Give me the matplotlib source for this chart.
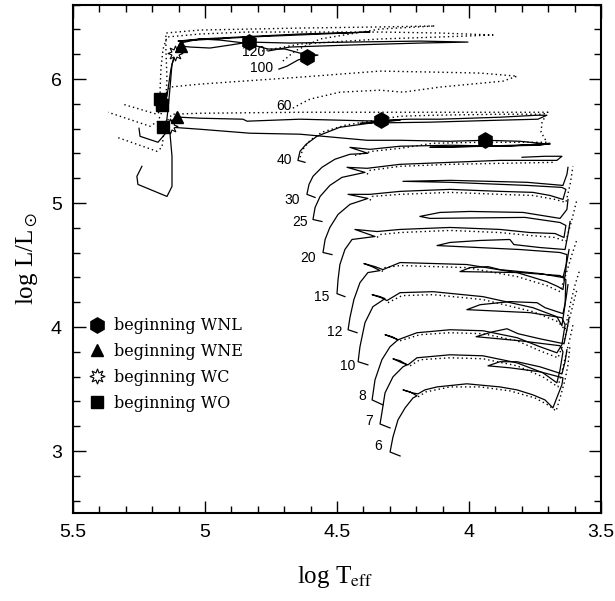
import numpy as np
import matplotlib
matplotlib.use('Agg')
import matplotlib.pyplot as plt
from matplotlib.lines import Line2D
from matplotlib.ticker import MultipleLocator

plt.rcParams['mathtext.fontset'] = 'stix'

# evolutionary tracks, (log Teff, log L)
# solid = rotating models, dotted = non rotating
m6 = [(4.261,2.960),(4.299,2.992),(4.288,3.113),(4.269,3.251),(4.242,3.348),(4.212,3.428),(4.197,3.445),
      (4.223,3.477),(4.250,3.493),(4.216,3.469),(4.193,3.461),(4.167,3.493),(4.121,3.517),(4.008,3.542),
      (3.883,3.517),(3.818,3.493),(3.758,3.453),(3.712,3.412),(3.682,3.348),(3.663,3.453),(3.648,3.534),
      (3.644,3.590),(3.731,3.639),(3.845,3.671),(3.928,3.687),(3.883,3.720),(3.818,3.720),(3.731,3.679),
      (3.648,3.622),(3.636,3.720),(3.629,3.817)]
m6_dot = [(4.193,3.437),(4.163,3.477),(4.072,3.517),(3.958,3.517),(3.845,3.485),(3.750,3.428),(3.701,3.372),
          (3.670,3.323),(3.655,3.428),(3.636,3.574),(3.625,3.695),(3.617,3.857)]

m7 = [(4.299,3.186),(4.337,3.218),(4.330,3.307),(4.318,3.469),(4.288,3.598),(4.250,3.679),(4.235,3.695),
      (4.261,3.728),(4.288,3.744),(4.254,3.711),(4.231,3.695),(4.197,3.752),(4.072,3.776),(3.947,3.768),
      (3.818,3.711),(3.720,3.631),(3.667,3.550),(3.655,3.655),(3.644,3.800),(3.655,3.849),(3.807,3.889),
      (3.973,3.922),(3.909,3.962),(3.856,3.986),(3.814,3.946),(3.731,3.905),(3.640,3.865),(3.629,3.978),
      (3.621,4.075)]
m7_dot = [(4.223,3.687),(4.186,3.736),(4.072,3.752),(3.947,3.744),(3.818,3.687),(3.720,3.598),(3.663,3.517),
          (3.648,3.639),(3.633,3.776),(3.617,3.914),(3.606,4.019)]

m8 = [(4.326,3.372),(4.367,3.412),(4.356,3.574),(4.330,3.736),(4.299,3.841),(4.269,3.897),(4.292,3.922),
      (4.318,3.938),(4.288,3.914),(4.269,3.897),(4.197,3.954),(4.072,3.978),(3.947,3.970),(3.818,3.914),
      (3.731,3.841),(3.667,3.792),(3.648,3.857),(3.636,4.019),(3.648,4.075),(3.769,4.116),(4.008,4.140),
      (3.958,4.180),(3.845,4.205),(3.742,4.196),(3.712,4.156),(3.644,4.108),(3.633,4.221),(3.625,4.342)]
m8_dot = [(4.261,3.889),(4.186,3.938),(4.072,3.954),(3.947,3.946),(3.818,3.889),(3.731,3.808),(3.663,3.752),
          (3.644,3.857),(3.625,4.019),(3.606,4.180),(3.591,4.302)]

m10 = [(4.383,3.695),(4.420,3.720),(4.413,3.841),(4.394,4.035),(4.364,4.164),(4.318,4.229),(4.337,4.245),
       (4.367,4.261),(4.333,4.237),(4.311,4.213),(4.261,4.277),(4.136,4.285),(3.947,4.245),(3.758,4.156),
       (3.667,4.083),(3.648,4.011),(3.636,4.180),(3.633,4.382),(3.655,4.415),(3.807,4.439),(4.034,4.447),
       (3.996,4.479),(3.928,4.487),(3.883,4.463),(3.731,4.431),(3.644,4.399),(3.629,4.528),(3.621,4.625)]
m10_dot = [(4.307,4.196),(4.254,4.253),(4.136,4.261),(3.947,4.221),(3.758,4.124),(3.663,4.043),(3.636,3.978),
           (3.617,4.180),(3.598,4.342),(3.580,4.463)]

m12 = [(4.424,3.954),(4.458,3.978),(4.451,4.075),(4.436,4.221),(4.413,4.358),(4.383,4.439),(4.337,4.455),
       (4.367,4.487),(4.398,4.512),(4.356,4.487),(4.326,4.463),(4.261,4.520),(4.008,4.504),(3.818,4.439),
       (3.705,4.366),(3.663,4.326),(3.644,4.302),(3.633,4.463),(3.629,4.584),(3.655,4.601),(3.807,4.625),
       (4.121,4.657),(4.072,4.682),(3.958,4.698),(3.845,4.706),(3.830,4.665),(3.731,4.641),(3.636,4.625),
       (3.625,4.746),(3.617,4.851)]
m12_dot = [(4.330,4.447),(4.318,4.479),(4.261,4.496),(4.008,4.479),(3.818,4.407),(3.705,4.334),(3.655,4.285),
           (3.633,4.423),(3.610,4.584),(3.591,4.706)]

m15 = [(4.470,4.245),(4.500,4.269),(4.496,4.382),(4.489,4.504),(4.470,4.625),(4.443,4.706),(4.356,4.730),
       (4.432,4.787),(4.348,4.770),(4.261,4.787),(4.072,4.803),(3.883,4.787),(3.769,4.762),(3.674,4.754),
       (3.640,4.722),(3.633,4.819),(3.655,4.843),(3.788,4.884),(4.148,4.876),(4.186,4.892),(4.110,4.924),
       (3.996,4.932),(3.795,4.924),(3.655,4.876),(3.629,4.948),(3.625,5.029)]
m15_dot = [(4.348,4.722),(4.337,4.746),(4.261,4.762),(4.072,4.779),(3.883,4.762),(3.769,4.738),(3.674,4.722),
           (3.633,4.690),(3.610,4.867),(3.591,5.029)]

m20 = [(4.519,4.584),(4.553,4.601),(4.545,4.706),(4.527,4.803),(4.496,4.908),(4.451,4.989),(4.383,5.037),
       (4.458,5.070),(4.375,5.070),(4.261,5.094),(4.072,5.110),(3.883,5.094),(3.758,5.086),(3.693,5.061),
       (3.644,5.029),(3.633,5.110),(3.648,5.126),(3.780,5.142),(4.072,5.167),(4.250,5.175),(4.072,5.183),
       (3.780,5.167),(3.644,5.142),(3.629,5.231),(3.625,5.288)]
m20_dot = [(4.375,5.021),(4.367,5.053),(4.261,5.070),(4.072,5.086),(3.883,5.070),(3.758,5.061),(3.674,5.029),
           (3.633,5.005),(3.617,5.150),(3.606,5.296)]

m25 = [(4.557,4.851),(4.591,4.867),(4.583,4.964),(4.564,5.053),(4.527,5.142),(4.481,5.207),(4.394,5.247),
       (4.462,5.288),(4.386,5.280),(4.261,5.312),(4.072,5.328),(3.883,5.344),(3.667,5.344),(3.648,5.377),
       (3.712,5.377),(3.799,5.369)]
m25_dot = [(4.386,5.231),(4.375,5.264),(4.261,5.296),(4.072,5.312),(3.883,5.320),(3.674,5.328)]

m30 = [(4.583,5.045),(4.614,5.070),(4.606,5.150),(4.591,5.215),(4.557,5.288),(4.508,5.353),(4.451,5.393),
       (4.383,5.401),(4.451,5.449),(4.375,5.433),(4.261,5.458),(4.072,5.466),(3.856,5.458),(3.693,5.482),
       (3.731,5.466),(4.148,5.449),(3.958,5.458),(3.693,5.474),(3.807,5.498),(3.939,5.506),(4.072,5.498),
       (4.261,5.506),(4.386,5.506),(4.640,5.555),(4.830,5.563),(5.019,5.595),(5.125,5.611),(5.152,5.595)]
m30_dot = [(4.432,5.385),(4.367,5.417),(4.261,5.441),(4.136,5.482),(3.958,5.490),(3.705,5.490),(3.727,5.571),
           (3.723,5.660),(3.708,5.700)]

m40 = [(4.621,5.328),(4.648,5.344),(4.640,5.417),(4.617,5.474),(4.576,5.538),(4.489,5.611),(4.375,5.644),
       (4.333,5.668),(4.223,5.676),(4.110,5.676),(3.883,5.692),(3.742,5.708),(3.705,5.708),(3.739,5.676),
       (3.883,5.668),(4.148,5.652),(4.413,5.644),(4.261,5.668),(4.337,5.660),(4.640,5.676),(4.841,5.660),
       (4.856,5.676),(5.019,5.684),(5.095,5.692),(5.133,5.660),(5.159,5.611),(5.133,5.571),(5.125,5.377),
       (5.125,5.134),(5.144,5.053),(5.254,5.150),(5.258,5.215),(5.239,5.296)]
m40_dot = [(4.640,5.369),(4.629,5.433),(4.602,5.506),(4.557,5.571),(4.470,5.627),(4.356,5.668),(4.261,5.700),
           (4.136,5.708),(3.883,5.716),(3.720,5.716),(3.701,5.732),(3.883,5.732),(4.136,5.732),(4.640,5.732),
           (5.019,5.724),(5.125,5.716),(5.152,5.635),(5.159,5.514),(5.163,5.449),(5.182,5.417),(5.333,5.530)]

m60_dot = [(4.667,5.765),(4.640,5.797),(4.602,5.838),(4.489,5.894),(4.337,5.910),(4.250,5.894),(4.110,5.935),
           (3.871,5.983),(3.818,6.023),(3.958,6.048),(4.136,6.056),(4.337,6.064),(4.640,6.015),(5.019,5.959),
           (5.133,5.935),(5.155,5.862),(5.170,5.741),(5.182,5.716),(5.311,5.797)]

m100 = [(4.720,6.080),(4.689,6.104),(4.648,6.153),(4.614,6.177),(4.572,6.193),(4.640,6.209),(4.697,6.242),
        (4.761,6.242),(4.848,6.290),(4.943,6.314),(5.019,6.323),(5.102,6.306),(4.830,6.339),(4.375,6.379),
        (4.640,6.363),(5.019,6.323),(5.095,6.290),(5.114,6.209),(5.129,6.080),(5.144,5.862),(5.163,5.805)]
m100_dot = [(4.705,6.145),(4.659,6.226),(4.564,6.323),(4.337,6.403),(4.129,6.428),(4.337,6.420),(4.640,6.411),
            (5.019,6.395),(5.148,6.371),(5.148,6.242),(5.144,5.999),(5.148,5.862),(5.163,5.757)]

m120 = [(4.761,6.226),(4.678,6.258),(4.451,6.274),(4.186,6.290),(4.004,6.298),(4.186,6.306),(4.451,6.298),
        (4.678,6.290),(4.833,6.298),(4.905,6.274),(4.981,6.250),(5.057,6.258),(5.091,6.266),(5.110,6.209),
        (5.125,6.120),(5.133,5.918),(5.140,5.757),(5.148,5.611)]
m120_dot = [(4.784,6.226),(4.640,6.282),(4.337,6.323),(4.110,6.339),(3.909,6.355),(4.110,6.371),(4.337,6.379),
            (4.640,6.379),(4.841,6.379),(5.019,6.363),(5.144,6.339),(5.159,6.242),(5.167,6.080),(5.170,5.918),
            (5.170,5.838),(5.159,5.757),(5.178,5.660),(5.208,5.619),(5.367,5.732)]

wr_tail = [(5.250,5.603),(5.246,5.538),(5.178,5.490),(5.152,5.555)]

# WR phase markers
wnl_t = [4.833, 4.614, 4.333, 3.939]
wnl_l = [6.298, 6.177, 5.668, 5.506]
wne_t = [5.091, 5.106]
wne_l = [6.266, 5.692]
wc_t = [5.114, 5.133]
wc_l = [6.209, 5.619]
wo_t = [5.170, 5.163, 5.159]
wo_l = [5.838, 5.789, 5.611]

# mass labels
mass_labels = ['6', '7', '8', '10', '12', '15', '20', '25', '30', '40', '60', '100', '120']
label_t = [4.345, 4.379, 4.405, 4.458, 4.508, 4.557, 4.610, 4.640, 4.670, 4.701, 4.701, 4.784, 4.814]
label_l = [3.040, 3.243, 3.445, 3.687, 3.962, 4.245, 4.560, 4.843, 5.021, 5.344, 5.781, 6.088, 6.218]

solid = [m6, m7, m8, m10, m12, m15, m20, m25, m30, m40, m100, m120, wr_tail]
dotted = [m6_dot, m7_dot, m8_dot, m10_dot, m12_dot, m15_dot, m20_dot, m25_dot, m30_dot,
          m40_dot, m60_dot, m100_dot, m120_dot]

fig = plt.figure(figsize=(6.15, 6.01), dpi=100)
ax = fig.add_axes([0.1187, 0.1464, 0.8585, 0.8459])

for tr in dotted:
    t, l = np.array(tr).T
    ax.plot(t, l, color='k', lw=1.0, ls=(0, (1, 2.2)))
for tr in solid:
    t, l = np.array(tr).T
    ax.plot(t, l, color='k', lw=0.9)

ax.plot(wc_t, wc_l, ls='none', marker=(8, 1, 0), ms=11, mfc='white', mec='k', mew=0.8)
ax.plot(wo_t, wo_l, ls='none', marker='s', ms=9, color='k')
ax.plot(wne_t, wne_l, ls='none', marker='^', ms=9, color='k')
ax.plot(wnl_t, wnl_l, ls='none', marker='h', ms=11, color='k')

for s, t, l in zip(mass_labels, label_t, label_l):
    ax.text(t, l, s, ha='center', va='center', fontsize=10, family='Liberation Sans')

ax.set_xlim(5.5, 3.5)
ax.set_ylim(2.5, 6.6)
ax.xaxis.set_minor_locator(MultipleLocator(0.1))
ax.yaxis.set_minor_locator(MultipleLocator(0.2))
ax.set_xticks([5.5, 5, 4.5, 4, 3.5])
ax.set_xticklabels(['5.5', '5', '4.5', '4', '3.5'])
ax.set_yticks([3, 4, 5, 6])
ax.set_yticklabels(['3', '4', '5', '6'])
ax.tick_params(which='both', direction='in', top=True, right=True, width=1)
ax.tick_params(which='major', length=9, labelsize=14, pad=8)
ax.tick_params(which='minor', length=5)
for lab in ax.get_xticklabels() + ax.get_yticklabels():
    lab.set_family('Liberation Sans')
for sp in ax.spines.values():
    sp.set_linewidth(1.5)

ax.set_ylabel(r'log L/L$_\odot$', fontsize=18, family='Liberation Serif')
ax.set_xlabel(r'log T$_{\rm eff}$', fontsize=18, family='Liberation Serif')
ax.yaxis.set_label_coords(-0.062, 0.5)
ax.xaxis.set_label_coords(0.496, -0.10)

handles = [
    Line2D([], [], ls='none', marker='h', ms=11, color='k'),
    Line2D([], [], ls='none', marker='^', ms=9, color='k'),
    Line2D([], [], ls='none', marker=(8, 1, 0), ms=11, mfc='white', mec='k', mew=0.8),
    Line2D([], [], ls='none', marker='s', ms=9, color='k'),
]
names = ['beginning WNL', 'beginning WNE', 'beginning WC', 'beginning WO']
ax.legend(handles, names, loc='upper left', bbox_to_anchor=(0.03, 0.385), frameon=False,
          handlelength=1.0, handletextpad=0.6, labelspacing=0.55, borderpad=0, borderaxespad=0,
          prop={'family': 'DejaVu Serif', 'size': 11.5})

fig.savefig('out.png', dpi=100)
